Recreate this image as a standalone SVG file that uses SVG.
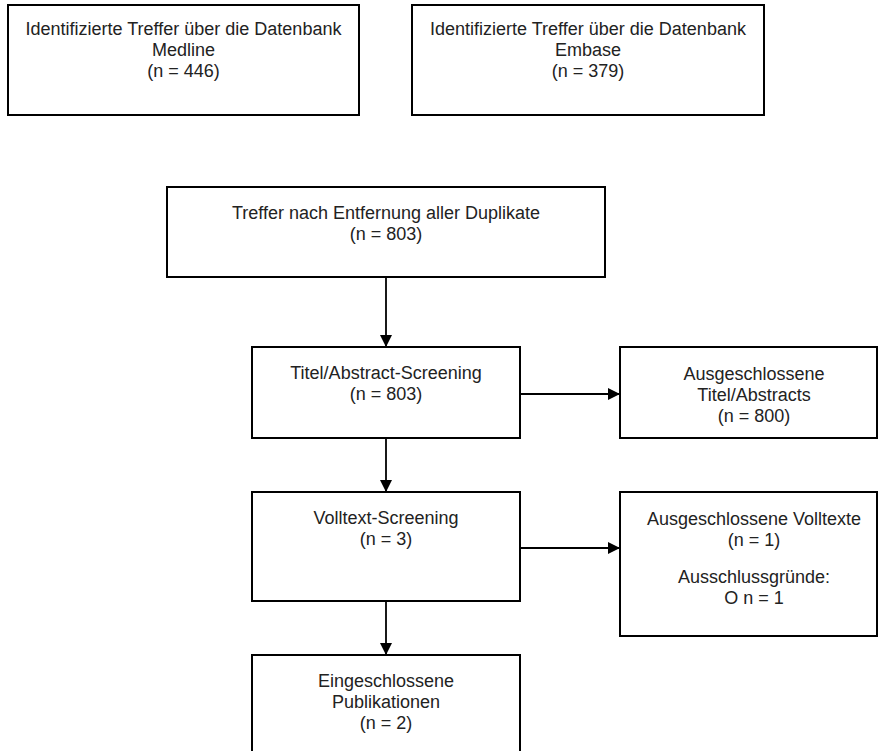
<svg xmlns="http://www.w3.org/2000/svg" width="878" height="751" viewBox="0 0 878 751">
<style>
.box{fill:#fff;stroke:#000;stroke-width:2}
.t{font-family:"Liberation Sans",Arial,sans-serif;font-size:18px;fill:#222;text-anchor:middle}
.c{stroke:#000;stroke-width:1.8;fill:none}
</style>
<defs>
<marker id="ah" markerUnits="userSpaceOnUse" markerWidth="12" markerHeight="12" refX="12" refY="6" orient="auto">
<path d="M0,0 L12,6 L0,12 z" fill="#000"/>
</marker>
</defs>
<rect width="878" height="751" fill="#fff"/>
<g id="connectors">
<line class="c" x1="386" y1="277" x2="386" y2="347" marker-end="url(#ah)"/>
<line class="c" x1="520" y1="394" x2="620" y2="394" marker-end="url(#ah)"/>
<line class="c" x1="386" y1="438" x2="386" y2="492" marker-end="url(#ah)"/>
<line class="c" x1="520" y1="548" x2="620" y2="548" marker-end="url(#ah)"/>
<line class="c" x1="386" y1="601" x2="386" y2="655" marker-end="url(#ah)"/>
</g>
<g id="medline">
<rect class="box" x="8" y="5" width="351" height="110"/>
<text class="t" x="183.5" y="35">Identifizierte Treffer über die Datenbank</text>
<text class="t" x="183.5" y="56">Medline</text>
<text class="t" x="183.5" y="77">(n = 446)</text>
</g>
<g id="embase">
<rect class="box" x="412" y="5" width="352" height="110"/>
<text class="t" x="588" y="35">Identifizierte Treffer über die Datenbank</text>
<text class="t" x="588" y="56">Embase</text>
<text class="t" x="588" y="77">(n = 379)</text>
</g>
<g id="duplikate">
<rect class="box" x="167" y="187" width="438" height="90"/>
<text class="t" x="386" y="219">Treffer nach Entfernung aller Duplikate</text>
<text class="t" x="386" y="240">(n = 803)</text>
</g>
<g id="titelabstract">
<rect class="box" x="252" y="347" width="268" height="91"/>
<text class="t" x="386" y="379">Titel/Abstract-Screening</text>
<text class="t" x="386" y="400">(n = 803)</text>
</g>
<g id="ausgeschlossen-ta">
<rect class="box" x="620" y="347" width="257" height="91"/>
<text class="t" x="754" y="380">Ausgeschlossene</text>
<text class="t" x="754" y="401">Titel/Abstracts</text>
<text class="t" x="754" y="422">(n = 800)</text>
</g>
<g id="volltext">
<rect class="box" x="252" y="492" width="268" height="109"/>
<text class="t" x="386" y="524">Volltext-Screening</text>
<text class="t" x="386" y="545">(n = 3)</text>
</g>
<g id="ausgeschlossen-vt">
<rect class="box" x="620" y="492" width="257" height="144"/>
<text class="t" x="754" y="525">Ausgeschlossene Volltexte</text>
<text class="t" x="754" y="546">(n = 1)</text>
<text class="t" x="754" y="583">Ausschlussgründe:</text>
<text class="t" x="754" y="604">O n = 1</text>
</g>
<g id="eingeschlossen">
<rect class="box" x="252" y="655" width="268" height="110"/>
<text class="t" x="386" y="687">Eingeschlossene</text>
<text class="t" x="386" y="708">Publikationen</text>
<text class="t" x="386" y="729">(n = 2)</text>
</g>
</svg>
